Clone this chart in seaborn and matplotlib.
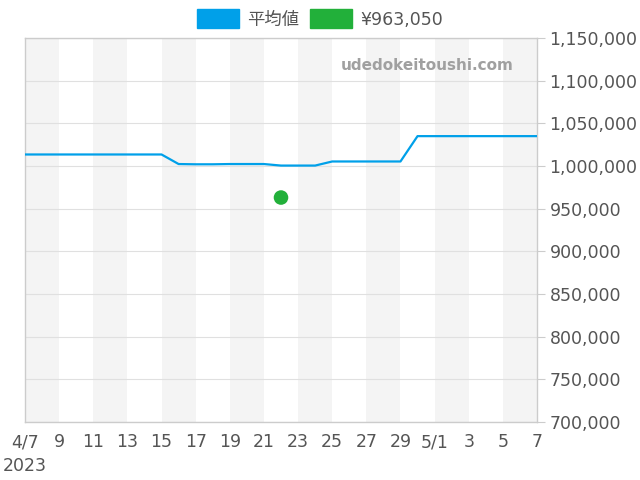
import pandas as pd
import numpy as np
import matplotlib
matplotlib.use('Agg')
import matplotlib.pyplot as plt
from matplotlib.patches import Patch
import seaborn as sns

# daily average price, 4/7 - 5/7 2023
dates = pd.date_range('2023-04-07', '2023-05-07', freq='D')
avg_price = [1013500, 1013500, 1013500, 1013500, 1013500, 1013500, 1013500, 1013500, 1013500,
             1002300, 1002000, 1002000, 1002300, 1002300, 1002300,
             1000500, 1000500, 1000500,
             1005300, 1005300, 1005300, 1005300, 1005300,
             1035000, 1035000, 1035000, 1035000, 1035000, 1035000, 1035000, 1035000]
sale_date = pd.to_datetime(['2023-04-22'])
sale_price = [963050]

y_ticks = list(range(700000, 1150001, 50000))
blue = '#00a0e9'
green = '#22b03a'

df = pd.DataFrame({'date': dates, 'price': avg_price})
sale = pd.DataFrame({'date': sale_date, 'price': sale_price})

sns.set_style('white')
plt.rcParams['font.family'] = ['DejaVu Sans', 'Noto Sans CJK JP']

fig = plt.figure(figsize=(6.4, 4.8), dpi=100)
ax = fig.add_axes([25 / 640, 1 - 422 / 480, 512 / 640, 384 / 480])

# alternating background bands every two days
start = dates[0]
for i in range(0, 30, 4):
    ax.axvspan(start + pd.Timedelta(days=i), start + pd.Timedelta(days=i + 2),
               color='#f4f4f4', lw=0, zorder=0)

sns.lineplot(data=df, x='date', y='price', color=blue, lw=1.6, ax=ax, zorder=3)
sns.scatterplot(data=sale, x='date', y='price', color=green, s=110, edgecolor='none', ax=ax, zorder=4)

ax.set_xlim(dates[0], dates[-1])
ax.set_ylim(700000, 1150000)
ax.set_yticks(y_ticks)
ax.yaxis.tick_right()
ax.set_yticklabels([f'{v:,}' for v in y_ticks])
ax.grid(axis='y', color='#e0e0e0', lw=0.8)
ax.set_axisbelow(True)

xt = dates[::2]
ax.set_xticks(xt)
labels = []
for d in xt:
    if d == dates[0]:
        labels.append('4/7')
    elif d.day == 1:
        labels.append(f'{d.month}/{d.day}')
    else:
        labels.append(str(d.day))
ax.set_xticklabels(labels)

ax.tick_params(axis='both', colors='#cccccc', labelcolor='#555555', labelsize=12.5, length=6, width=0.8)
ax.tick_params(axis='y', pad=3)
ax.tick_params(axis='x', pad=2)
for sp in ax.spines.values():
    sp.set_color('#cccccc')
    sp.set_linewidth(1)
ax.set_xlabel('')
ax.set_ylabel('')

fig.text(3 / 640, 1 - 466 / 480, '2023', ha='left', va='center', fontsize=12.5, color='#555555')

ax.text(0.954, 0.928, 'udedokeitoushi.com', transform=ax.transAxes, ha='right', va='center',
        fontsize=11, fontweight='bold', color='#a0a0a0', zorder=5)

handles = [Patch(color=blue, label='平均値'), Patch(color=green, label='¥963,050')]
fig.legend(handles=handles, loc='center', bbox_to_anchor=(0.5, 1 - 19 / 480), ncol=2,
           frameon=False, handlelength=2.4, handleheight=1.3,
           columnspacing=0.6, handletextpad=0.5, labelcolor='#555555',
           prop={'family': ['DejaVu Sans', 'Noto Sans CJK JP'], 'size': 12.5})

fig.savefig('out.png', dpi=100)
